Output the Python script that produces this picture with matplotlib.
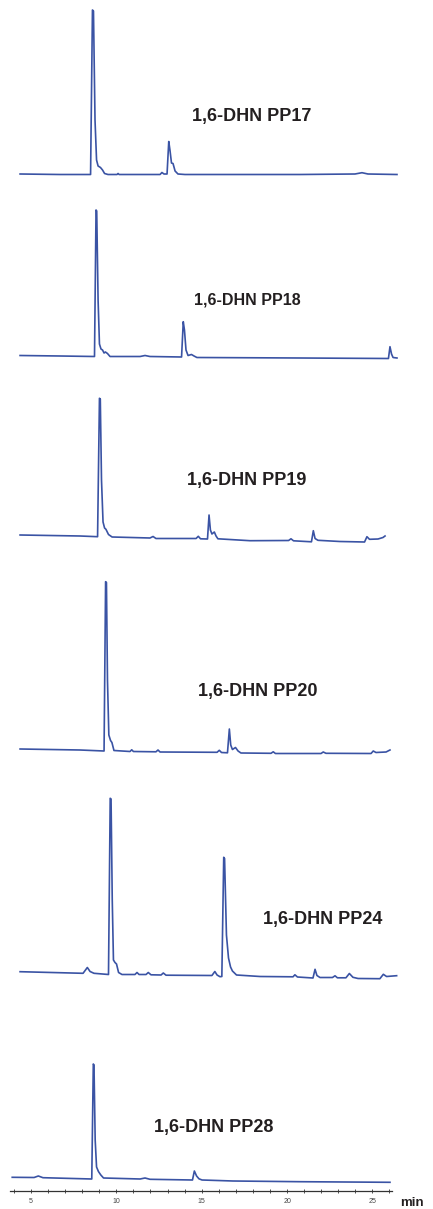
import matplotlib
matplotlib.use("Agg")
import matplotlib.pyplot as plt
from matplotlib.ticker import FixedLocator

plt.rcParams['font.family'] = ['Liberation Sans', 'DejaVu Sans']

# ---------------------------------------------------------------- data
time_ticks = [5, 10, 15, 20, 25]
time_unit = "min"

sample_labels = ["1,6-DHN PP17", "1,6-DHN PP18", "1,6-DHN PP19",
                 "1,6-DHN PP20", "1,6-DHN PP24", "1,6-DHN PP28"]

# retention time (min) / detector signal (a.u.)
pp17_time = [4.36, 6.70, 8.49, 8.60, 8.66, 8.75, 8.84, 8.93, 9.07, 9.19, 9.31,
             9.51, 10.04, 10.10, 10.16, 12.56, 12.67, 12.79, 12.97, 13.07, 13.14,
             13.23, 13.32, 13.44, 13.61, 14.02, 20.76, 23.98, 24.39, 24.74, 26.44]
pp17_signal = [0.5, 0, 0, 164.5, 163.5, 54.5, 14.5, 8.5, 7, 4.5, 1,
               0, 0, 1, 0, 0, 2, 0.5, 0.5, 33, 24.5,
               11.5, 11, 3.5, 0.5, 0, 0, 0.5, 1.8, 0.5, 0]

pp18_time = [4.36, 6.70, 8.72, 8.81, 8.85, 8.93, 9.01, 9.10, 9.19, 9.28, 9.36,
             9.48, 9.63, 11.39, 11.68, 11.97, 13.82, 13.92, 13.99, 14.08, 14.20,
             14.40, 14.55, 14.72, 20.76, 25.94, 26.03, 26.12, 26.21, 26.44]
pp18_signal = [0, -0.5, -1, 145.5, 144.5, 55.5, 11.5, 6.5, 5.5, 2.5, 3.5,
               2, -1, -1, 0, -1, -1.5, 33.8, 25.5, 5.5, 0,
               1, -0.5, -2, -2.5, -3, 8.8, 1.5, -2, -2.5]

pp19_time = [4.36, 7.87, 8.90, 9.01, 9.06, 9.13, 9.22, 9.31, 9.39, 9.54, 9.75,
             11.97, 12.15, 12.32, 14.67, 14.80, 14.93, 15.34, 15.43, 15.51, 15.60,
             15.74, 15.84, 15.95, 17.83, 20.09, 20.23, 20.38, 21.43, 21.54, 21.64,
             21.81, 23.10, 24.54, 24.68, 24.83, 25.33, 25.62, 25.74]
pp19_signal = [0, -1, -1.7, 136.7, 136, 55, 13, 7, 5.7, 0.5, -2,
               -3, -1.5, -3.5, -3.5, -1.3, -3.8, -4, 20, 5, 1,
               3, -1, -3.8, -5.7, -5.5, -3.8, -5.8, -6.8, 4.3, -3.5,
               -5.3, -6.5, -7, -1.7, -4.3, -4, -2.5, -1]

pp20_time = [4.36, 7.87, 9.28, 9.37, 9.42, 9.48, 9.56, 9.66, 9.74, 9.86, 10.80,
             10.90, 11.00, 12.32, 12.44, 12.56, 15.90, 16.03, 16.16, 16.51, 16.62,
             16.70, 16.80, 16.98, 17.13, 17.30, 19.06, 19.19, 19.32, 21.99, 22.12,
             22.28, 24.92, 25.05, 25.21, 25.80, 26.03]
pp20_signal = [0, -1, -2, 167.3, 166.5, 69, 14, 8.5, 6.5, -1.5, -2.5,
               -0.8, -2.5, -2.8, -1, -3, -3.3, -1.3, -3.5, -3.8, 20,
               4, -0.5, 1.5, -2, -4, -4.3, -2.8, -4.5, -4.5, -3,
               -4.3, -4.5, -2, -3.5, -3, -1]

pp24_time = [4.36, 8.05, 8.30, 8.46, 8.69, 9.54, 9.64, 9.69, 9.76, 9.83, 9.92,
             10.01, 10.13, 10.33, 11.09, 11.21, 11.33, 11.74, 11.87, 12.03, 12.62,
             12.75, 12.91, 15.60, 15.77, 15.90, 16.07, 16.18, 16.29, 16.34, 16.45,
             16.57, 16.69, 16.80, 17.04, 18.42, 20.35, 20.46, 20.61, 21.52, 21.64,
             21.75, 21.93, 22.66, 22.81, 22.95, 23.45, 23.65, 23.86, 24.16, 25.44,
             25.64, 25.83, 26.42]
pp24_signal = [0, -1.6, 4.2, 0.2, -1.6, -2.8, 173.4, 172.7, 71.7, 11.7, 9.2,
               7.7, -0.8, -2.8, -2.8, -0.8, -2.8, -2.8, -0.8, -3.1, -3.3,
               -1.3, -3.5, -3.8, 0.2, -3.3, -5, -4.8, 114.4, 113.2, 36.7,
               13.7, 4.7, 0.7, -3.3, -4.8, -5.1, -3.1, -5.3, -6.3, 2.4,
               -3.8, -5.8, -5.8, -4.1, -6.1, -6.1, -1.8, -5.6, -6.8, -7,
               -2.6, -4.8, -4]

pp28_time = [3.90, 5.18, 5.43, 5.70, 8.56, 8.65, 8.69, 8.76, 8.84, 8.95, 9.09,
             9.25, 11.39, 11.68, 11.97, 14.46, 14.57, 14.70, 14.84, 15.02, 16.83,
             20.76, 26.03]
pp28_signal = [0, -0.2, 1.3, -0.4, -1.7, 113.3, 112.3, 37.3, 10.3, 5.8, 2.3,
               -0.7, -1.7, -0.7, -2, -2.7, 6.3, 1.3, -1.5, -2.7, -3.7,
               -4.4, -5]

traces = [(pp17_time, pp17_signal), (pp18_time, pp18_signal),
          (pp19_time, pp19_signal), (pp20_time, pp20_signal),
          (pp24_time, pp24_signal), (pp28_time, pp28_signal)]

# ---------------------------------------------------------------- layout
W, H, DPI = 433, 1209, 100
PX_PER_MIN = 17.07
X0 = 5 - 31 / PX_PER_MIN           # time at the left edge of the figure
X1 = X0 + W / PX_PER_MIN           # time at the right edge

# (band top, band bottom, zero-signal row) in pixels, one per panel
bands = [(0, 195, 174.5), (195, 375, 355.5), (375, 575, 535.0),
         (575, 775, 749.0), (775, 995, 971.7), (1030, 1190.7, 1177.3)]
# label centre (x, y) in pixels and font size
label_pos = [(252, 116.5, 13), (247, 300.2, 11.5), (247, 480, 13),
             (258, 691.3, 13), (323, 919.5, 13), (214, 1127.8, 13)]

LINE_COLOR = '#3a53a4'
TEXT_COLOR = '#231f20'

fig = plt.figure(figsize=(W / DPI, H / DPI), dpi=DPI)
fig.patch.set_facecolor('white')

axes = []
for (top, bot, zero), (t, s) in zip(bands, traces):
    ax = fig.add_axes([0, 1 - bot / H, 1, (bot - top) / H])
    ax.set_xlim(X0, X1)
    ax.set_ylim(zero - bot, zero - top)
    ax.plot(t, s, color=LINE_COLOR, lw=1.2, solid_joinstyle='round',
            clip_on=False)
    for sp in ax.spines.values():
        sp.set_visible(False)
    ax.set_xticks([])
    ax.set_yticks([])
    ax.patch.set_alpha(0)
    axes.append(ax)

# time axis under the last chromatogram
ax = axes[-1]
ax.spines['bottom'].set_visible(True)
ax.spines['bottom'].set_bounds(X0 + 10 / PX_PER_MIN, X0 + 392 / PX_PER_MIN)
ax.spines['bottom'].set_linewidth(0.9)
ax.spines['bottom'].set_color('#333333')
ax.xaxis.set_major_locator(FixedLocator(time_ticks))
ax.xaxis.set_minor_locator(FixedLocator(list(range(4, 27))))
ax.set_xticklabels([str(v) for v in time_ticks])
ax.tick_params(axis='x', which='both', direction='inout', color='#333333',
               width=0.6, labelsize=5, labelcolor='#444444', pad=4)
ax.tick_params(axis='x', which='major', length=3)
ax.tick_params(axis='x', which='minor', length=2.5)

fig.text(411.7 / W, 1 - 1202.5 / H, time_unit, ha='center', va='center',
         fontsize=9.5, fontweight='bold', color=TEXT_COLOR)

for label, (x, y, fs) in zip(sample_labels, label_pos):
    fig.text(x / W, 1 - y / H, label, ha='center', va='center',
             fontsize=fs, fontweight='bold', color=TEXT_COLOR)

fig.savefig('out.png', dpi=DPI, facecolor='white')
